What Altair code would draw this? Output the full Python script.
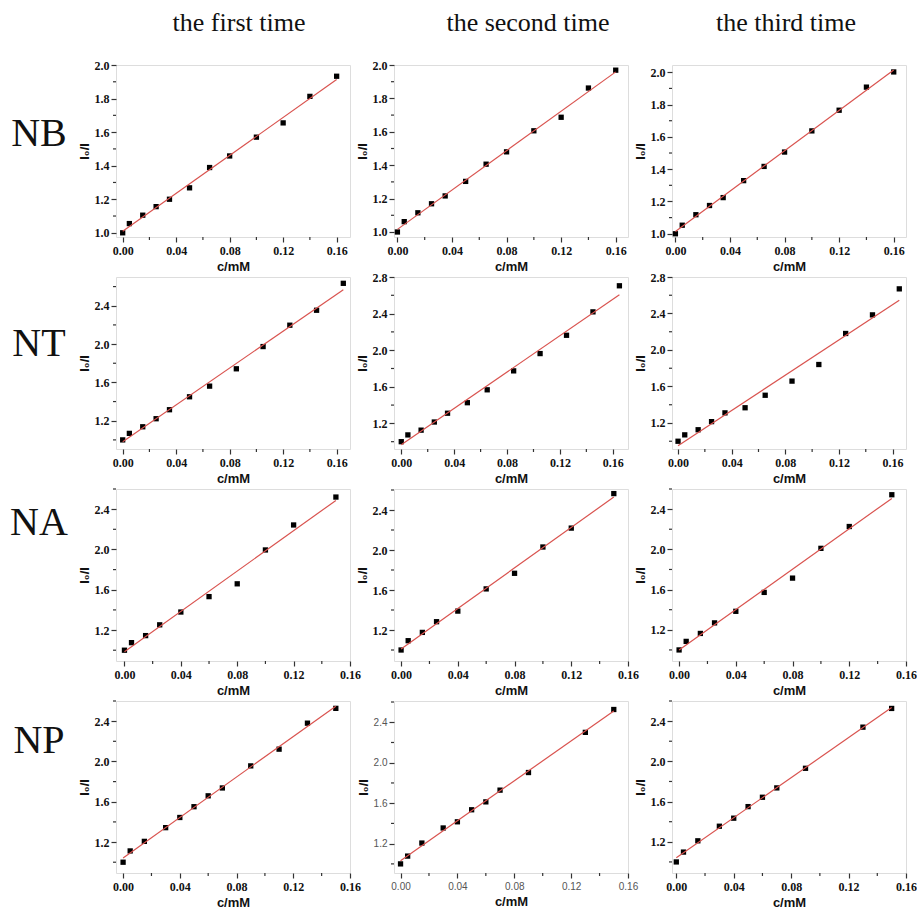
import altair as alt
import pandas as pd

# ---------------- data ----------------
col_titles = ["the first time", "the second time", "the third time"]
row_labels = ["NB", "NT", "NA", "NP"]

x_nb = [0, 0.005, 0.015, 0.025, 0.035, 0.05, 0.065, 0.08, 0.10, 0.12, 0.14, 0.16]
y_nb1 = [1.0, 1.055, 1.105, 1.156, 1.20, 1.268, 1.389, 1.458, 1.57, 1.655, 1.813, 1.933]
y_nb2 = [1.0, 1.062, 1.115, 1.169, 1.216, 1.303, 1.406, 1.48, 1.606, 1.687, 1.862, 1.969]
y_nb3 = [1.0, 1.053, 1.118, 1.175, 1.224, 1.329, 1.417, 1.506, 1.637, 1.765, 1.908, 2.002]

x_nt = [0, 0.005, 0.015, 0.025, 0.035, 0.05, 0.065, 0.085, 0.105, 0.125, 0.145, 0.165]
y_nt1 = [1.0, 1.068, 1.137, 1.221, 1.315, 1.45, 1.561, 1.742, 1.974, 2.197, 2.353, 2.634]
y_nt2 = [1.0, 1.074, 1.126, 1.215, 1.311, 1.426, 1.567, 1.774, 1.963, 2.163, 2.419, 2.704]
y_nt3 = [1.0, 1.07, 1.126, 1.215, 1.311, 1.367, 1.504, 1.659, 1.841, 2.181, 2.385, 2.67]

x_na = [0, 0.005, 0.015, 0.025, 0.04, 0.06, 0.08, 0.10, 0.12, 0.15]
y_na1 = [1.0, 1.075, 1.145, 1.252, 1.379, 1.532, 1.659, 1.995, 2.243, 2.52]
y_na2 = [1.0, 1.093, 1.176, 1.283, 1.389, 1.611, 1.767, 2.03, 2.219, 2.564]
y_na3 = [1.0, 1.085, 1.164, 1.269, 1.384, 1.572, 1.714, 2.01, 2.227, 2.543]

x_np1 = [0, 0.005, 0.015, 0.03, 0.04, 0.05, 0.06, 0.07, 0.09, 0.11, 0.13, 0.15]
y_np1 = [1.0, 1.112, 1.207, 1.343, 1.444, 1.551, 1.659, 1.737, 1.956, 2.122, 2.38, 2.527]
x_np23 = [0, 0.005, 0.015, 0.03, 0.04, 0.05, 0.06, 0.07, 0.09, 0.13, 0.15]
y_np2 = [1.0, 1.077, 1.206, 1.355, 1.416, 1.535, 1.613, 1.729, 1.903, 2.3, 2.526]
y_np3 = [1.0, 1.098, 1.21, 1.355, 1.435, 1.55, 1.643, 1.736, 1.931, 2.34, 2.526]

# tick values
x_major = [0.0, 0.04, 0.08, 0.12, 0.16]
x_minor = [0.02, 0.06, 0.10, 0.14]
y_major_nb = [1.0, 1.2, 1.4, 1.6, 1.8, 2.0]
y_minor_nb = [1.1, 1.3, 1.5, 1.7, 1.9]
y_major_hi = [1.2, 1.6, 2.0, 2.4, 2.8]
y_minor_hi = [1.0, 1.4, 1.8, 2.2, 2.6]

# ---------------- layout constants ----------------
PW, PH = 234, 172
HSP, VSP = 44, 40
LABEL_W, TITLE_H = 66, 19
RED = "#d9534f"
TICK = "#333"

SERIF = "Liberation Serif"
SANS = "Liberation Sans"


def inside(vals, dom):
    return [v for v in vals if dom[0] - 1e-9 <= v <= dom[1] + 1e-9]


def panel(xs, ys, xdom, ydom, ymaj, ymin, serif=True):
    df = pd.DataFrame({"c": xs, "r": ys})
    lab_font = SERIF if serif else SANS
    lab_weight = "bold" if serif else "normal"
    lab_size = 12 if serif else 10
    lab_color = "#111" if serif else "#555"
    common = dict(
        labelFont=lab_font, labelFontWeight=lab_weight, labelFontSize=lab_size,
        labelColor=lab_color, labelOverlap=False, labelFlush=False, tickCount=30,
        titleFont=SANS, titleFontWeight="bold", titleFontSize=13, titleColor="#111",
        domain=False, grid=False, tickColor=TICK, tickWidth=1.2, tickSize=5,
    )
    xaxis = alt.Axis(values=inside(x_major, xdom), format=".2f", labelPadding=3,
                     title="c/mM", titlePadding=4, **common)
    yaxis = alt.Axis(values=inside(ymaj, ydom), format=".1f", labelPadding=2,
                     title="I\u2080/I", titlePadding=3, **common)
    xs_ = alt.Scale(domain=xdom, nice=False, zero=False)
    ys_ = alt.Scale(domain=ydom, nice=False, zero=False)
    base = alt.Chart(df)
    pts = base.mark_square(size=28, color="black", opacity=1).encode(
        x=alt.X("c:Q", scale=xs_, axis=xaxis), y=alt.Y("r:Q", scale=ys_, axis=yaxis)
    )
    line = base.transform_regression("c", "r").mark_line(
        color=RED, strokeWidth=1.2
    ).encode(x=alt.X("c:Q", scale=xs_), y=alt.Y("r:Q", scale=ys_))
    # minor ticks (outside, shorter)
    ymin_df = pd.DataFrame({"r": inside(ymin, ydom)})
    xmin_df = pd.DataFrame({"c": inside(x_minor, xdom)})
    yminor = alt.Chart(ymin_df).mark_rule(color=TICK, strokeWidth=1.2).encode(
        y=alt.Y("r:Q", scale=ys_), x=alt.value(-3), x2=alt.value(0)
    )
    xminor = alt.Chart(xmin_df).mark_rule(color=TICK, strokeWidth=1.2).encode(
        x=alt.X("c:Q", scale=xs_), y=alt.value(PH), y2=alt.value(PH + 3)
    )
    return alt.layer(pts, line, yminor, xminor).properties(width=PW, height=PH)


panels = [
    [
        panel(x_nb, y_nb1, [-0.005, 0.17], [0.975, 2.0], y_major_nb, y_minor_nb),
        panel(x_nb, y_nb2, [-0.0025, 0.169], [0.97, 2.0], y_major_nb, y_minor_nb),
        panel(x_nb, y_nb3, [-0.0025, 0.169], [0.98, 2.045], y_major_nb, y_minor_nb),
    ],
    [
        panel(x_nt, y_nt1, [-0.005, 0.17], [0.905, 2.7], y_major_hi, y_minor_hi),
        panel(x_nt, y_nt2, [-0.0055, 0.1715], [0.92, 2.8], y_major_hi, y_minor_hi),
        panel(x_nt, y_nt3, [-0.0045, 0.17], [0.915, 2.8], y_major_hi, y_minor_hi),
    ],
    [
        panel(x_na, y_na1, [-0.006, 0.16], [0.893, 2.6], y_major_hi, y_minor_hi),
        panel(x_na, y_na2, [-0.005, 0.16], [0.89, 2.61], y_major_hi, y_minor_hi),
        panel(x_na, y_na3, [-0.005, 0.16], [0.89, 2.6], y_major_hi, y_minor_hi),
    ],
    [
        panel(x_np1, y_np1, [-0.005, 0.16], [0.893, 2.6], y_major_hi, y_minor_hi),
        panel(x_np23, y_np2, [-0.0046, 0.16], [0.91, 2.61], y_major_hi, y_minor_hi, serif=False),
        panel(x_np23, y_np3, [-0.003, 0.16], [0.89, 2.6], y_major_hi, y_minor_hi),
    ],
]

no_frame = alt.ViewBackground(stroke="transparent")


def text_chart(txt, w, h, xpos, ypos, size):
    return (
        alt.Chart(pd.DataFrame({"t": [txt]}))
        .mark_text(font=SERIF, fontSize=size, align="center", baseline="middle", color="#111")
        .encode(text="t:N", x=alt.value(xpos), y=alt.value(ypos))
        .properties(width=w, height=h, view=no_frame)
    )


title_x = [123, 134, 114]
label_y = [69, 67, 34, 40]

cells = [text_chart("", LABEL_W, TITLE_H, 33, 10, 10)]
cells += [text_chart(col_titles[i], PW, TITLE_H, title_x[i], 17, 26) for i in range(3)]
for i in range(4):
    cells.append(text_chart(row_labels[i], LABEL_W, PH, 33, label_y[i], 40))
    cells += panels[i]

chart = (
    alt.concat(*cells, columns=4, spacing={"row": VSP, "column": HSP}, bounds="flush")
    .properties(padding={"left": 5, "top": 5, "right": 0, "bottom": 0})
    .configure_view(stroke="#333", strokeWidth=1.5)
    .configure(background="white")
)

chart.save("out.html", embed_options={"renderer": "svg", "actions": False})
